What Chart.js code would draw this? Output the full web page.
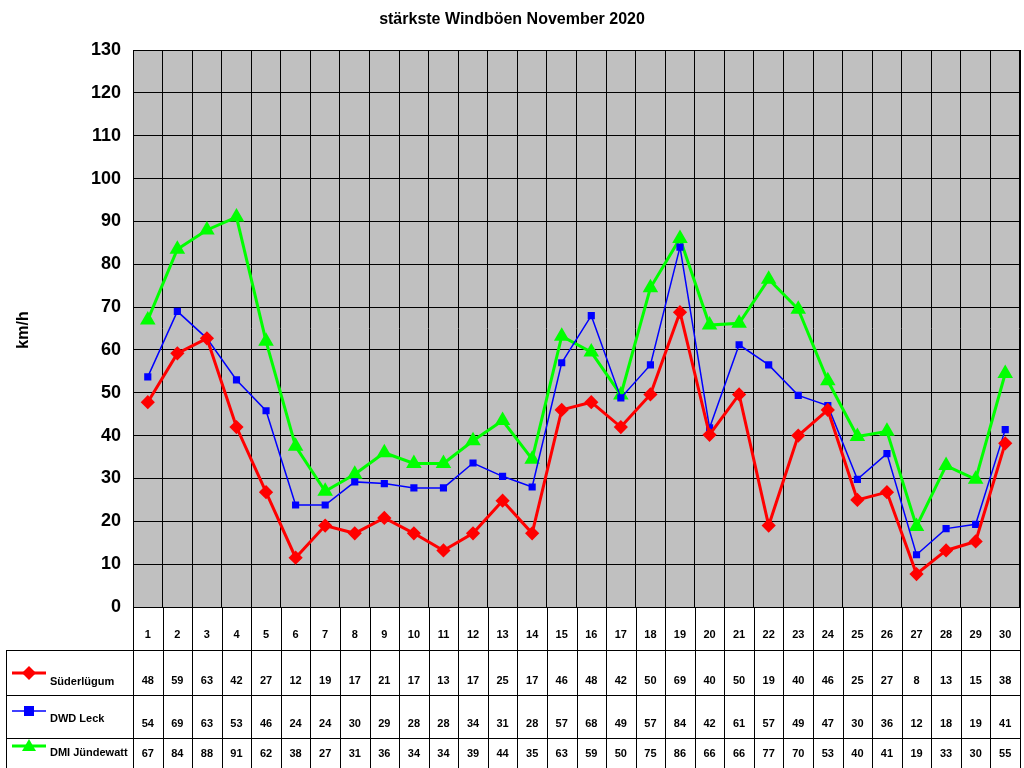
<!DOCTYPE html>
<html><head><meta charset="utf-8">
<script src="https://cdn.jsdelivr.net/npm/chart.js@4"></script>
<style>body{margin:0;background:#fff}#wrap{width:1024px;height:768px}</style>
</head><body><div id="wrap"><canvas id="c"></canvas></div>
<script>
const days = ['1','2','3','4','5','6','7','8','9','10','11','12','13','14','15','16','17','18','19','20','21','22','23','24','25','26','27','28','29','30'];
const suederluegum = [48,59,63,42,27,12,19,17,21,17,13,17,25,17,46,48,42,50,69,40,50,19,40,46,25,27,8,13,15,38];
const dwdLeck = [54,69,63,53,46,24,24,30,29,28,28,34,31,28,57,68,49,57,84,42,61,57,49,47,30,36,12,18,19,41];
const dmiJuendewatt = [67,84,88,91,62,38,27,31,36,34,34,39,44,35,63,59,50,75,86,66,66,77,70,53,40,41,19,33,30,55];
// plotted points (slightly more precise than table)
const suedPts = [47.8,59.2,62.7,42.0,26.8,11.5,19.0,17.2,20.8,17.2,13.2,17.2,24.8,17.2,46.0,47.8,42.0,49.6,68.8,40.2,49.6,19.0,40.0,46.0,25.0,26.8,7.7,13.2,15.3,38.2];
const dwdPts = [53.7,69.0,62.7,53.0,45.8,23.8,23.8,29.2,28.8,27.8,27.8,33.6,30.5,28.0,57.0,68.0,48.8,56.5,84.0,41.8,61.2,56.5,49.4,47.0,29.8,35.8,12.2,18.3,19.3,41.4];
const dmiPts = [67.0,83.5,88.0,91.0,62.0,37.5,27.0,31.0,36.0,33.5,33.5,38.8,43.5,34.5,63.2,59.5,49.5,74.5,86.0,65.8,66.2,76.5,69.5,52.8,39.8,41.0,18.8,33.0,29.8,54.5];
const rowNames = ['Süderlügum','DWD Leck','DMI Jündewatt'];

const tablePlugin = {
  id: 'tbl',
  beforeDraw(chart) {
    const {ctx, chartArea: a} = chart;
    ctx.save(); ctx.fillStyle = '#C0C0C0';
    ctx.fillRect(a.left, a.top, a.right - a.left, a.bottom - a.top);
    ctx.restore();
  },
  afterDraw(chart) {
    const {ctx, chartArea: a, scales: {x}} = chart;
    const H = chart.height;
    const rows = [a.bottom, 650, 695, 738, H];
    ctx.save();
    ctx.strokeStyle = '#000'; ctx.lineWidth = 1;
    ctx.strokeRect(a.left + 0.5, a.top + 0.5, a.right - a.left, a.bottom - a.top);
    const w = (x.getPixelForValue(1) - x.getPixelForValue(0));
    ctx.beginPath();
    for (let i = 0; i <= days.length; i++) {
      const px = Math.round(x.getPixelForValue(i) - w / 2) + 0.5;
      ctx.moveTo(px, a.bottom); ctx.lineTo(px, H);
    }
    ctx.moveTo(6.5, rows[1]); ctx.lineTo(6.5, H);
    for (let r = 1; r <= 3; r++) { ctx.moveTo(6, rows[r] + 0.5); ctx.lineTo(a.right, rows[r] + 0.5); }
    ctx.stroke();
    ctx.fillStyle = '#000'; ctx.font = 'bold 11px Arial, "Liberation Sans"';
    ctx.textAlign = 'center'; ctx.textBaseline = 'middle';
    days.forEach((d, i) => ctx.fillText(d, x.getPixelForValue(i), 635));
    const series = [suederluegum, dwdLeck, dmiJuendewatt];
    series.forEach((s, r) => s.forEach((v, i) => ctx.fillText(String(v), x.getPixelForValue(i), rows[r + 2] - 14)));
    // legend keys
    const keyY = [673, 711, 746], textY = [682, 719, 753];
    chart.data.datasets.forEach((ds, r) => {
      const y = keyY[r];
      ctx.strokeStyle = ds.borderColor; ctx.lineWidth = ds.borderWidth;
      ctx.beginPath(); ctx.moveTo(12, y); ctx.lineTo(46, y); ctx.stroke();
      ctx.fillStyle = ds.borderColor; ctx.beginPath();
      if (r === 0) { ctx.moveTo(29, y - 7); ctx.lineTo(36, y); ctx.lineTo(29, y + 7); ctx.lineTo(22, y); }
      else if (r === 1) { ctx.rect(24, y - 5, 10, 10); }
      else { ctx.moveTo(29, y - 7); ctx.lineTo(36, y + 5); ctx.lineTo(22, y + 5); }
      ctx.fill();
      ctx.fillStyle = '#000'; ctx.textAlign = 'left';
      ctx.fillText(rowNames[r], 50, textY[r]);
    });
    ctx.textAlign = 'center'; ctx.font = 'bold 16px Arial, "Liberation Sans"';
    ctx.fillText('stärkste Windböen November 2020', 512, 20);
    ctx.translate(24, 330); ctx.rotate(-Math.PI / 2);
    ctx.fillText('km/h', 0, 0);
    ctx.restore();
  }
};

new Chart(document.getElementById('c'), {
  type: 'line',
  data: {
    labels: days,
    datasets: [
      { label: 'Süderlügum', data: suedPts, borderColor: '#FF0000', backgroundColor: '#FF0000', borderWidth: 3, pointStyle: 'rectRot', pointRadius: 5, tension: 0 },
      { label: 'DWD Leck', data: dwdPts, borderColor: '#0000FF', backgroundColor: '#0000FF', borderWidth: 1.5, pointStyle: 'rect', pointRadius: 4, tension: 0 },
      { label: 'DMI Jündewatt', data: dmiPts, borderColor: '#00FF00', backgroundColor: '#00FF00', borderWidth: 3, pointStyle: 'triangle', pointRadius: 6, tension: 0 }
    ]
  },
  options: {
    responsive: true, maintainAspectRatio: false, animation: false,
    layout: { autoPadding: false, padding: { top: 50, right: 4, left: 0, bottom: 0 } },
    plugins: { legend: { display: false }, tooltip: { enabled: false } },
    scales: {
      x: { offset: true, grid: { offset: true, color: '#000', drawTicks: false }, border: { color: '#000' },
           ticks: { display: false }, afterFit: s => { s.height = 161; } },
      y: { min: 0, max: 130, grid: { color: '#000', drawTicks: false }, border: { color: '#000' },
           ticks: { stepSize: 10, color: '#000', font: { size: 18, weight: 'bold', family: 'Arial, "Liberation Sans"' }, padding: 12 },
           afterFit: s => { s.width = 133; } }
    }
  },
  plugins: [tablePlugin]
});
</script></body></html>
